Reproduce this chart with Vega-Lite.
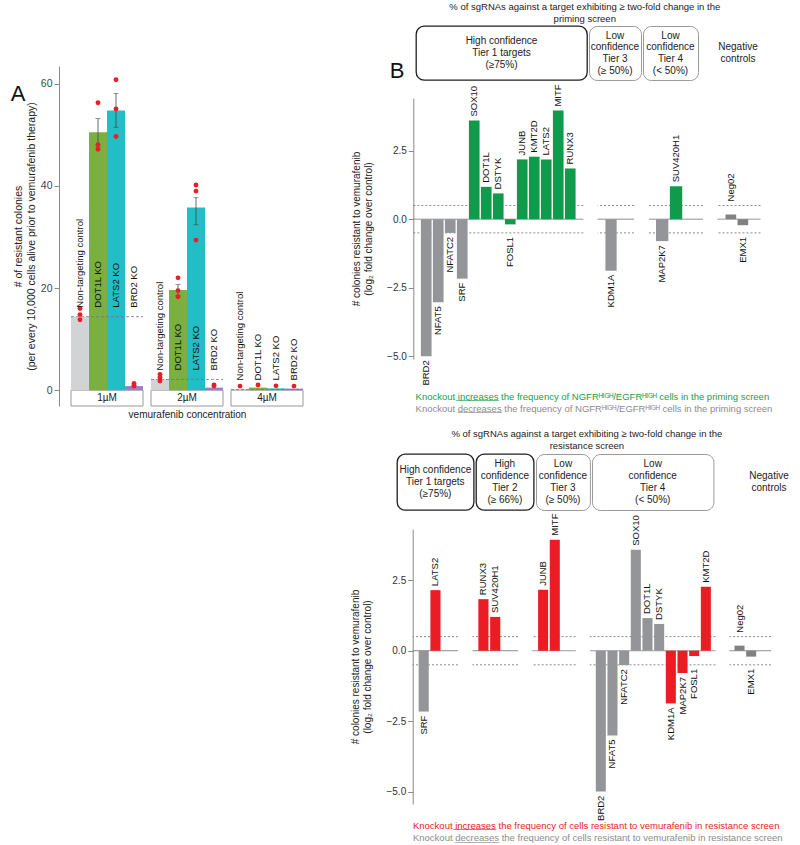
{
"$schema": "https://vega.github.io/schema/vega-lite/v6.json",
"padding": {"left": 10, "top": 2, "right": 0, "bottom": 0},
"config": {"font": "Liberation Sans", "view": {"stroke": null}, "axis": {"grid": false}, "title": {"fontWeight": "normal"}},
"resolve": {"scale": {"color": "independent", "strokeDash": "independent"}},
"datasets": {
 "aBars": [
  {"conc": "1µM", "sample": "Non-targeting control", "mean": 14.4},
  {"conc": "1µM", "sample": "DOT1L KO", "mean": 50.5, "lo": 47.8, "hi": 53.2},
  {"conc": "1µM", "sample": "LATS2 KO", "mean": 54.8, "lo": 51.5, "hi": 58.1},
  {"conc": "1µM", "sample": "BRD2 KO", "mean": 0.8},
  {"conc": "2µM", "sample": "Non-targeting control", "mean": 2.1},
  {"conc": "2µM", "sample": "DOT1L KO", "mean": 19.6, "lo": 18.5, "hi": 20.7},
  {"conc": "2µM", "sample": "LATS2 KO", "mean": 35.8, "lo": 32.4, "hi": 37.7},
  {"conc": "2µM", "sample": "BRD2 KO", "mean": 0.5},
  {"conc": "4µM", "sample": "Non-targeting control", "mean": 0.15},
  {"conc": "4µM", "sample": "DOT1L KO", "mean": 0.5},
  {"conc": "4µM", "sample": "LATS2 KO", "mean": 0.35},
  {"conc": "4µM", "sample": "BRD2 KO", "mean": 0.3}
 ],
 "aPts": [
  {"conc": "1µM", "sample": "Non-targeting control", "v": 16.0},
  {"conc": "1µM", "sample": "Non-targeting control", "v": 14.8},
  {"conc": "1µM", "sample": "Non-targeting control", "v": 13.8},
  {"conc": "1µM", "sample": "DOT1L KO", "v": 56.3},
  {"conc": "1µM", "sample": "DOT1L KO", "v": 48.1},
  {"conc": "1µM", "sample": "DOT1L KO", "v": 47.2},
  {"conc": "1µM", "sample": "LATS2 KO", "v": 60.8},
  {"conc": "1µM", "sample": "LATS2 KO", "v": 55.1},
  {"conc": "1µM", "sample": "LATS2 KO", "v": 49.7},
  {"conc": "1µM", "sample": "BRD2 KO", "v": 1.3},
  {"conc": "1µM", "sample": "BRD2 KO", "v": 0.9},
  {"conc": "1µM", "sample": "BRD2 KO", "v": 0.8},
  {"conc": "2µM", "sample": "Non-targeting control", "v": 3.1},
  {"conc": "2µM", "sample": "Non-targeting control", "v": 2.5},
  {"conc": "2µM", "sample": "Non-targeting control", "v": 1.8},
  {"conc": "2µM", "sample": "DOT1L KO", "v": 22.0},
  {"conc": "2µM", "sample": "DOT1L KO", "v": 19.5},
  {"conc": "2µM", "sample": "DOT1L KO", "v": 18.3},
  {"conc": "2µM", "sample": "LATS2 KO", "v": 40.2},
  {"conc": "2µM", "sample": "LATS2 KO", "v": 39.0},
  {"conc": "2µM", "sample": "LATS2 KO", "v": 29.4},
  {"conc": "2µM", "sample": "BRD2 KO", "v": 1.0},
  {"conc": "2µM", "sample": "BRD2 KO", "v": 0.8},
  {"conc": "4µM", "sample": "Non-targeting control", "v": 0.8},
  {"conc": "4µM", "sample": "DOT1L KO", "v": 1.0},
  {"conc": "4µM", "sample": "LATS2 KO", "v": 0.85},
  {"conc": "4µM", "sample": "BRD2 KO", "v": 0.8}
 ],
 "aConc": [{"conc": "1µM"}, {"conc": "2µM"}, {"conc": "4µM"}],
 "refs": [{"value": 0, "kind": "zero"}, {"value": 0.5, "kind": "thr"}, {"value": -0.5, "kind": "thr"}],
 "bTop": [
  {"group": "T1", "gene": "BRD2", "value": -5.0, "call": "non"},
  {"group": "T1", "gene": "NFAT5", "value": -3.03, "call": "non"},
  {"group": "T1", "gene": "NFATC2", "value": -0.5, "call": "non"},
  {"group": "T1", "gene": "SRF", "value": -2.17, "call": "non"},
  {"group": "T1", "gene": "SOX10", "value": 3.6, "call": "hit"},
  {"group": "T1", "gene": "DOT1L", "value": 1.18, "call": "hit"},
  {"group": "T1", "gene": "DSTYK", "value": 0.94, "call": "hit"},
  {"group": "T1", "gene": "FOSL1", "value": -0.19, "call": "hit"},
  {"group": "T1", "gene": "JUNB", "value": 2.18, "call": "hit"},
  {"group": "T1", "gene": "KMT2D", "value": 2.28, "call": "hit"},
  {"group": "T1", "gene": "LATS2", "value": 2.18, "call": "hit"},
  {"group": "T1", "gene": "MITF", "value": 3.96, "call": "hit"},
  {"group": "T1", "gene": "RUNX3", "value": 1.85, "call": "hit"},
  {"group": "T3", "gene": "KDM1A", "value": -1.88, "call": "non"},
  {"group": "T4", "gene": "MAP2K7", "value": -0.8, "call": "non"},
  {"group": "T4", "gene": "SUV420H1", "value": 1.2, "call": "hit"},
  {"group": "NC", "gene": "Neg02", "value": 0.17, "call": "ctrl"},
  {"group": "NC", "gene": "EMX1", "value": -0.22, "call": "ctrl"}
 ],
 "bBot": [
  {"group": "T1", "gene": "SRF", "value": -2.16, "call": "non"},
  {"group": "T1", "gene": "LATS2", "value": 2.15, "call": "hit"},
  {"group": "T2", "gene": "RUNX3", "value": 1.83, "call": "hit"},
  {"group": "T2", "gene": "SUV420H1", "value": 1.2, "call": "hit"},
  {"group": "T3", "gene": "JUNB", "value": 2.16, "call": "hit"},
  {"group": "T3", "gene": "MITF", "value": 3.94, "call": "hit"},
  {"group": "T4", "gene": "BRD2", "value": -5.0, "call": "non"},
  {"group": "T4", "gene": "NFAT5", "value": -3.01, "call": "non"},
  {"group": "T4", "gene": "NFATC2", "value": -0.51, "call": "non"},
  {"group": "T4", "gene": "SOX10", "value": 3.58, "call": "non"},
  {"group": "T4", "gene": "DOT1L", "value": 1.16, "call": "non"},
  {"group": "T4", "gene": "DSTYK", "value": 0.95, "call": "non"},
  {"group": "T4", "gene": "KDM1A", "value": -1.87, "call": "hit"},
  {"group": "T4", "gene": "MAP2K7", "value": -0.79, "call": "hit"},
  {"group": "T4", "gene": "FOSL1", "value": -0.19, "call": "hit"},
  {"group": "T4", "gene": "KMT2D", "value": 2.27, "call": "hit"},
  {"group": "NC", "gene": "Neg02", "value": 0.18, "call": "ctrl"},
  {"group": "NC", "gene": "EMX1", "value": -0.21, "call": "ctrl"}
 ]
},
"spacing": 46,
"hconcat": [
 {"spacing": 8, "bounds": "flush", "vconcat": [
  {"width": 10, "height": 32, "data": {"values": [{"t": "A"}]}, "mark": {"type": "text", "fontSize": 22, "dx": -58, "dy": 52, "color": "#111"}, "encoding": {"text": {"field": "t"}}},
  {"width": 232, "height": 340,
   "layer": [
    {"data": {"name": "aConc"}, "mark": {"type": "rect", "fill": "white", "stroke": "#9a9a9a", "strokeWidth": 1},
     "encoding": {"x": {"field": "conc", "type": "nominal"}, "y": {"datum": 0, "type": "quantitative"}, "y2": {"datum": -3.1}}},
    {"data": {"name": "aConc"}, "mark": {"type": "text", "fontSize": 10, "color": "#222"},
     "encoding": {"x": {"field": "conc", "type": "nominal"}, "y": {"datum": -1.55, "type": "quantitative"}, "text": {"field": "conc"}}},
    {"data": {"name": "aBars"}, "mark": {"type": "bar"},
     "encoding": {
      "x": {"field": "conc", "type": "nominal", "scale": {"paddingInner": 0.1, "paddingOuter": 0}, "axis": {"title": "vemurafenib concentration", "labels": false, "ticks": false, "domain": false, "titleFontSize": 10, "titleFontWeight": "normal", "titlePadding": 3, "titleColor": "#222"}},
      "xOffset": {"field": "sample", "type": "nominal", "sort": ["Non-targeting control", "DOT1L KO", "LATS2 KO", "BRD2 KO"], "scale": {"paddingInner": 0, "paddingOuter": 0}},
      "y": {"field": "mean", "type": "quantitative", "scale": {"domain": [-3.1, 63.5], "nice": false}, "axis": {"values": [0, 20, 40, 60], "offset": 12, "title": ["# of resistant colonies", "(per every 10,000 cells alive prior to vemurafenib therapy)"], "titleFontSize": 10.5, "titleFontWeight": "normal", "titleLineHeight": 12.5, "titlePadding": 4, "titleColor": "#222", "labelFontSize": 10.5, "labelColor": "#444", "domainColor": "#8a8a8a", "tickColor": "#8a8a8a", "tickSize": 5, "labelPadding": 2}},
      "color": {"field": "sample", "type": "nominal", "scale": {"domain": ["Non-targeting control", "DOT1L KO", "LATS2 KO", "BRD2 KO"], "range": ["#d2d3d5", "#7aaf41", "#21bec5", "#9c7fc6"]}, "legend": null}}},
    {"data": {"name": "aBars"}, "transform": [{"filter": "datum.sample == 'Non-targeting control'"}], "mark": {"type": "rule", "strokeDash": [3, 2], "color": "#777", "strokeWidth": 0.8},
     "encoding": {"x": {"field": "conc", "type": "nominal", "bandPosition": 0}, "x2": {"field": "conc", "bandPosition": 1}, "y": {"field": "mean", "type": "quantitative"}}},
    {"data": {"name": "aBars"}, "transform": [{"filter": "isValid(datum.lo)"}], "mark": {"type": "rule", "color": "#444", "strokeWidth": 0.8},
     "encoding": {"x": {"field": "conc", "type": "nominal"}, "xOffset": {"field": "sample", "type": "nominal", "sort": ["Non-targeting control", "DOT1L KO", "LATS2 KO", "BRD2 KO"]}, "y": {"field": "lo", "type": "quantitative"}, "y2": {"field": "hi"}}},
    {"data": {"name": "aBars"}, "transform": [{"filter": "isValid(datum.lo)"}], "mark": {"type": "tick", "color": "#444", "size": 5, "thickness": 0.8},
     "encoding": {"x": {"field": "conc", "type": "nominal"}, "xOffset": {"field": "sample", "type": "nominal", "sort": ["Non-targeting control", "DOT1L KO", "LATS2 KO", "BRD2 KO"]}, "y": {"field": "lo", "type": "quantitative"}}},
    {"data": {"name": "aBars"}, "transform": [{"filter": "isValid(datum.hi)"}], "mark": {"type": "tick", "color": "#444", "size": 5, "thickness": 0.8},
     "encoding": {"x": {"field": "conc", "type": "nominal"}, "xOffset": {"field": "sample", "type": "nominal", "sort": ["Non-targeting control", "DOT1L KO", "LATS2 KO", "BRD2 KO"]}, "y": {"field": "hi", "type": "quantitative"}}},
    {"data": {"name": "aPts"}, "mark": {"type": "circle", "size": 24, "color": "#ee1c25", "opacity": 1},
     "encoding": {"x": {"field": "conc", "type": "nominal"}, "xOffset": {"field": "sample", "type": "nominal", "sort": ["Non-targeting control", "DOT1L KO", "LATS2 KO", "BRD2 KO"]}, "y": {"field": "v", "type": "quantitative"}}},
    {"data": {"name": "aBars"}, "transform": [{"calculate": "datum.sample == 'Non-targeting control' ? datum.mean : 0", "as": "ntv"}, {"joinaggregate": [{"op": "max", "field": "ntv", "as": "ntbase"}], "groupby": ["conc"]}],
     "mark": {"type": "text", "angle": 270, "align": "left", "baseline": "middle", "dx": 9, "fontSize": 9.5, "color": "#111"},
     "encoding": {"x": {"field": "conc", "type": "nominal"}, "xOffset": {"field": "sample", "type": "nominal", "sort": ["Non-targeting control", "DOT1L KO", "LATS2 KO", "BRD2 KO"]}, "y": {"field": "ntbase", "type": "quantitative"}, "text": {"field": "sample"}}}
   ]}
 ]},
 {"spacing": 15, "resolve": {"scale": {"color": "independent", "strokeDash": "independent"}}, "vconcat": [
  {"title": {"text": ["% of sgRNAs against a target exhibiting ≥ two-fold change in the", "priming screen"], "fontSize": 9.5, "lineHeight": 11.5, "anchor": "middle", "frame": "bounds", "dx": 21, "offset": 2, "color": "#222"},
   "spacing": 2,
   "vconcat": [
    {"spacing": 2, "bounds": "flush", "hconcat": [
     {"width": 21, "height": 54, "data": {"values": [{"t": "B"}]}, "mark": {"type": "text", "fontSize": 22, "dx": -6.5, "dy": 18, "color": "#111"}, "encoding": {"text": {"field": "t"}}},
     {"width": 171, "height": 54, "view": {"stroke": "#1e1e1e", "strokeWidth": 1.3, "cornerRadius": 8}, "data": {"values": [{"t": "High confidence\nTier 1 targets\n(≥75%)"}]}, "mark": {"type": "text", "lineBreak": "\n", "fontSize": 10, "lineHeight": 12, "baseline": "middle", "dy": -12, "color": "#222"}, "encoding": {"text": {"field": "t"}}},
     {"width": 52, "height": 54, "view": {"stroke": "#9a9a9a", "strokeWidth": 1, "cornerRadius": 8}, "data": {"values": [{"t": "Low\nconfidence\nTier 3\n(≥ 50%)"}]}, "mark": {"type": "text", "lineBreak": "\n", "fontSize": 10, "lineHeight": 11.7, "baseline": "middle", "dy": -17.5, "color": "#222"}, "encoding": {"text": {"field": "t"}}},
     {"width": 55, "height": 54, "view": {"stroke": "#9a9a9a", "strokeWidth": 1, "cornerRadius": 8}, "data": {"values": [{"t": "Low\nconfidence\nTier 4\n(< 50%)"}]}, "mark": {"type": "text", "lineBreak": "\n", "fontSize": 10, "lineHeight": 11.7, "baseline": "middle", "dy": -17.5, "color": "#222"}, "encoding": {"text": {"field": "t"}}},
     {"width": 76, "height": 54, "data": {"values": [{"t": "Negative\ncontrols"}]}, "mark": {"type": "text", "lineBreak": "\n", "fontSize": 10, "lineHeight": 11.7, "baseline": "middle", "dy": -6, "color": "#222"}, "encoding": {"text": {"field": "t"}}}
    ]},
    {"spacing": 14.3, "bounds": "flush",
     "title": {"text": "Knockout i̲n̲c̲r̲e̲a̲s̲e̲s̲ the frequency of NGFRᴴᴵᴳᴴ/EGFRᴴᴵᴳᴴ cells in the priming screen", "subtitle": "Knockout d̲e̲c̲r̲e̲a̲s̲e̲s̲ the frequency of NGFRᴴᴵᴳᴴ/EGFRᴴᴵᴳᴴ cells in the priming screen", "orient": "bottom", "anchor": "start", "frame": "bounds", "dx": 64, "offset": 6, "fontSize": 9.5, "color": "#17a04c", "subtitleColor": "#8c8c8c", "subtitleFontSize": 9.5, "subtitlePadding": 3},
     "hconcat": [
      {"width": 5.4, "height": 261, "data": {"values": [{}]}, "mark": "text", "encoding": {"text": {"value": ""}}},
      {"width": 170, "height": 261, "layer": [
       {"data": {"name": "refs"}, "mark": {"type": "rule", "color": "#6e6e6e", "strokeWidth": 0.8}, "encoding": {"y": {"field": "value", "type": "quantitative", "scale": {"domain": [-5.1, 4.42], "nice": false}, "axis": {"values": [-5, -2.5, 0, 2.5], "format": ".1f", "title": ["# colonies resistant to vemurafenib", "(log₂ fold change over control)"], "titleFontSize": 10, "titleFontWeight": "normal", "titlePadding": 13, "titleLineHeight": 12, "titleColor": "#222", "labelFontSize": 10, "labelColor": "#333", "domainColor": "#8a8a8a", "tickColor": "#8a8a8a", "tickSize": 5, "labelPadding": 2}}, "strokeDash": {"field": "kind", "type": "nominal", "scale": {"domain": ["zero", "thr"], "range": [[1, 0], [2, 2]]}, "legend": null}}},
       {"data": {"name": "bTop"}, "transform": [{"filter": "datum.group == 'T1'"}], "mark": "bar", "encoding": {"x": {"field": "gene", "type": "nominal", "axis": null, "scale": {"domain": ["BRD2", "NFAT5", "NFATC2", "SRF", "SOX10", "DOT1L", "DSTYK", "FOSL1", "JUNB", "KMT2D", "LATS2", "MITF", "RUNX3"], "paddingInner": 0.11, "paddingOuter": 0.638, "align": 0.496}}, "y": {"field": "value", "type": "quantitative"}, "color": {"field": "call", "type": "nominal", "scale": {"domain": ["hit", "non", "ctrl"], "range": ["#0f9b4b", "#939598", "#818181"]}, "legend": null}}},
       {"data": {"name": "bTop"}, "transform": [{"filter": "datum.group == 'T1' && datum.value >= 0"}, {"calculate": "max(datum.value, 0.5)", "as": "ly"}], "mark": {"type": "text", "angle": 270, "align": "left", "baseline": "middle", "dx": 4, "fontSize": 9.5, "color": "#111"}, "encoding": {"x": {"field": "gene", "type": "nominal", "axis": null}, "y": {"field": "ly", "type": "quantitative"}, "text": {"field": "gene"}}},
       {"data": {"name": "bTop"}, "transform": [{"filter": "datum.group == 'T1' && datum.value < 0"}, {"calculate": "min(datum.value, -0.5)", "as": "ly"}], "mark": {"type": "text", "angle": 270, "align": "right", "baseline": "middle", "dx": -4, "fontSize": 9.5, "color": "#111"}, "encoding": {"x": {"field": "gene", "type": "nominal", "axis": null}, "y": {"field": "ly", "type": "quantitative"}, "text": {"field": "gene"}}}
      ]},
      {"width": 36.4, "height": 261, "layer": [
       {"data": {"name": "refs"}, "mark": {"type": "rule", "color": "#6e6e6e", "strokeWidth": 0.8}, "encoding": {"y": {"field": "value", "type": "quantitative", "scale": {"domain": [-5.1, 4.42], "nice": false}, "axis": null}, "strokeDash": {"field": "kind", "type": "nominal", "scale": {"domain": ["zero", "thr"], "range": [[1, 0], [2, 2]]}, "legend": null}}},
       {"data": {"name": "bTop"}, "transform": [{"filter": "datum.group == 'T3'"}], "mark": "bar", "encoding": {"x": {"field": "gene", "type": "nominal", "axis": null, "scale": {"domain": ["KDM1A"], "paddingInner": 0.11, "paddingOuter": 1.072, "align": 0.311}}, "y": {"field": "value", "type": "quantitative", "axis": null}, "color": {"field": "call", "type": "nominal", "scale": {"domain": ["hit", "non", "ctrl"], "range": ["#0f9b4b", "#939598", "#818181"]}, "legend": null}}},
       {"data": {"name": "bTop"}, "transform": [{"filter": "datum.group == 'T3' && datum.value < 0"}, {"calculate": "min(datum.value, -0.5)", "as": "ly"}], "mark": {"type": "text", "angle": 270, "align": "right", "baseline": "middle", "dx": -4, "fontSize": 9.5, "color": "#111"}, "encoding": {"x": {"field": "gene", "type": "nominal", "axis": null}, "y": {"field": "ly", "type": "quantitative", "axis": null}, "text": {"field": "gene"}}}
      ]},
      {"width": 54, "height": 261, "layer": [
       {"data": {"name": "refs"}, "mark": {"type": "rule", "color": "#6e6e6e", "strokeWidth": 0.8}, "encoding": {"y": {"field": "value", "type": "quantitative", "scale": {"domain": [-5.1, 4.42], "nice": false}, "axis": null}, "strokeDash": {"field": "kind", "type": "nominal", "scale": {"domain": ["zero", "thr"], "range": [[1, 0], [2, 2]]}, "legend": null}}},
       {"data": {"name": "bTop"}, "transform": [{"filter": "datum.group == 'T4'"}], "mark": "bar", "encoding": {"x": {"field": "gene", "type": "nominal", "axis": null, "scale": {"domain": ["MAP2K7", "SUV420H1"], "paddingInner": 0.11, "paddingOuter": 1.305, "align": 0.255}}, "y": {"field": "value", "type": "quantitative", "axis": null}, "color": {"field": "call", "type": "nominal", "scale": {"domain": ["hit", "non", "ctrl"], "range": ["#0f9b4b", "#939598", "#818181"]}, "legend": null}}},
       {"data": {"name": "bTop"}, "transform": [{"filter": "datum.group == 'T4' && datum.value >= 0"}, {"calculate": "max(datum.value, 0.5)", "as": "ly"}], "mark": {"type": "text", "angle": 270, "align": "left", "baseline": "middle", "dx": 4, "fontSize": 9.5, "color": "#111"}, "encoding": {"x": {"field": "gene", "type": "nominal", "axis": null}, "y": {"field": "ly", "type": "quantitative", "axis": null}, "text": {"field": "gene"}}},
       {"data": {"name": "bTop"}, "transform": [{"filter": "datum.group == 'T4' && datum.value < 0"}, {"calculate": "min(datum.value, -0.5)", "as": "ly"}], "mark": {"type": "text", "angle": 270, "align": "right", "baseline": "middle", "dx": -4, "fontSize": 9.5, "color": "#111"}, "encoding": {"x": {"field": "gene", "type": "nominal", "axis": null}, "y": {"field": "ly", "type": "quantitative", "axis": null}, "text": {"field": "gene"}}}
      ]},
      {"width": 43.3, "height": 261, "layer": [
       {"data": {"name": "refs"}, "mark": {"type": "rule", "color": "#6e6e6e", "strokeWidth": 0.8}, "encoding": {"y": {"field": "value", "type": "quantitative", "scale": {"domain": [-5.1, 4.42], "nice": false}, "axis": null}, "strokeDash": {"field": "kind", "type": "nominal", "scale": {"domain": ["zero", "thr"], "range": [[1, 0], [2, 2]]}, "legend": null}}},
       {"data": {"name": "bTop"}, "transform": [{"filter": "datum.group == 'NC'"}], "mark": "bar", "encoding": {"x": {"field": "gene", "type": "nominal", "axis": null, "scale": {"domain": ["Neg02", "EMX1"], "paddingInner": 0.11, "paddingOuter": 0.859, "align": 0.403}}, "y": {"field": "value", "type": "quantitative", "axis": null}, "color": {"field": "call", "type": "nominal", "scale": {"domain": ["hit", "non", "ctrl"], "range": ["#0f9b4b", "#939598", "#818181"]}, "legend": null}}},
       {"data": {"name": "bTop"}, "transform": [{"filter": "datum.group == 'NC' && datum.value >= 0"}, {"calculate": "max(datum.value, 0.5)", "as": "ly"}], "mark": {"type": "text", "angle": 270, "align": "left", "baseline": "middle", "dx": 4, "fontSize": 9.5, "color": "#111"}, "encoding": {"x": {"field": "gene", "type": "nominal", "axis": null}, "y": {"field": "ly", "type": "quantitative", "axis": null}, "text": {"field": "gene"}}},
       {"data": {"name": "bTop"}, "transform": [{"filter": "datum.group == 'NC' && datum.value < 0"}, {"calculate": "min(datum.value, -0.5)", "as": "ly"}], "mark": {"type": "text", "angle": 270, "align": "right", "baseline": "middle", "dx": -4, "fontSize": 9.5, "color": "#111"}, "encoding": {"x": {"field": "gene", "type": "nominal", "axis": null}, "y": {"field": "ly", "type": "quantitative", "axis": null}, "text": {"field": "gene"}}}
      ]}
     ]}
   ]},
  {"title": {"text": ["% of sgRNAs against a target exhibiting ≥ two-fold change in the", "resistance screen"], "fontSize": 9.5, "lineHeight": 11.5, "anchor": "middle", "frame": "bounds", "dx": 17, "offset": 3, "color": "#222"},
   "spacing": 2,
   "vconcat": [
    {"spacing": 2, "bounds": "flush", "hconcat": [
     {"width": 2, "height": 56, "data": {"values": [{}]}, "mark": "text", "encoding": {"text": {"value": ""}}},
     {"width": 76.7, "height": 56, "view": {"stroke": "#1e1e1e", "strokeWidth": 1.3, "cornerRadius": 8}, "data": {"values": [{"t": "High confidence\nTier 1 targets\n(≥75%)"}]}, "mark": {"type": "text", "lineBreak": "\n", "fontSize": 10, "lineHeight": 12, "baseline": "middle", "dy": -12, "color": "#222"}, "encoding": {"text": {"field": "t"}}},
     {"width": 57.7, "height": 56, "view": {"stroke": "#1e1e1e", "strokeWidth": 1.3, "cornerRadius": 8}, "data": {"values": [{"t": "High\nconfidence\nTier 2\n(≥ 66%)"}]}, "mark": {"type": "text", "lineBreak": "\n", "fontSize": 10, "lineHeight": 12.3, "baseline": "middle", "dy": -18.5, "color": "#222"}, "encoding": {"text": {"field": "t"}}},
     {"width": 53.9, "height": 56, "view": {"stroke": "#9a9a9a", "strokeWidth": 1, "cornerRadius": 8}, "data": {"values": [{"t": "Low\nconfidence\nTier 3\n(≥ 50%)"}]}, "mark": {"type": "text", "lineBreak": "\n", "fontSize": 10, "lineHeight": 12.3, "baseline": "middle", "dy": -18.5, "color": "#222"}, "encoding": {"text": {"field": "t"}}},
     {"width": 121.4, "height": 56, "view": {"stroke": "#9a9a9a", "strokeWidth": 1, "cornerRadius": 8}, "data": {"values": [{"t": "Low\nconfidence\nTier 4\n(< 50%)"}]}, "mark": {"type": "text", "lineBreak": "\n", "fontSize": 10, "lineHeight": 12.3, "baseline": "middle", "dy": -18.5, "color": "#222"}, "encoding": {"text": {"field": "t"}}},
     {"width": 50, "height": 56, "data": {"values": [{"t": "Negative\ncontrols"}]}, "mark": {"type": "text", "lineBreak": "\n", "fontSize": 10, "lineHeight": 12.3, "baseline": "middle", "dx": 28, "dy": -6, "color": "#222"}, "encoding": {"text": {"field": "t"}}}
    ]},
    {"spacing": 13.7, "bounds": "flush",
     "title": {"text": "Knockout  i̲n̲c̲r̲e̲a̲s̲e̲s̲ the frequency of cells resistant to vemurafenib in resistance screen", "subtitle": "Knockout d̲e̲c̲r̲e̲a̲s̲e̲s̲ the frequency of cells resistant to vemurafenib in resistance screen", "orient": "bottom", "anchor": "start", "frame": "bounds", "dx": 62, "offset": 0, "fontSize": 9.5, "color": "#ec1c24", "subtitleColor": "#8c8c8c", "subtitleFontSize": 9.5, "subtitlePadding": 3},
     "hconcat": [
      {"width": 6, "height": 275, "data": {"values": [{}]}, "mark": "text", "encoding": {"text": {"value": ""}}},
      {"width": 45.3, "height": 275, "layer": [
       {"data": {"name": "refs"}, "mark": {"type": "rule", "color": "#6e6e6e", "strokeWidth": 0.8}, "encoding": {"y": {"field": "value", "type": "quantitative", "scale": {"domain": [-5.44, 4.32], "nice": false}, "axis": {"values": [-5, -2.5, 0, 2.5], "format": ".1f", "title": ["# colonies resistant to vemurafenib", "(log₂ fold change over control)"], "titleFontSize": 10, "titleFontWeight": "normal", "titlePadding": 13, "titleLineHeight": 12, "titleColor": "#222", "labelFontSize": 10, "labelColor": "#333", "domainColor": "#8a8a8a", "tickColor": "#8a8a8a", "tickSize": 5, "labelPadding": 2}}, "strokeDash": {"field": "kind", "type": "nominal", "scale": {"domain": ["zero", "thr"], "range": [[1, 0], [2, 2]]}, "legend": null}}},
       {"data": {"name": "bBot"}, "transform": [{"filter": "datum.group == 'T1'"}], "mark": "bar", "encoding": {"x": {"field": "gene", "type": "nominal", "axis": null, "scale": {"domain": ["SRF", "LATS2"], "paddingInner": 0.14, "paddingOuter": 1.011, "align": 0.254}}, "y": {"field": "value", "type": "quantitative"}, "color": {"field": "call", "type": "nominal", "scale": {"domain": ["hit", "non", "ctrl"], "range": ["#ec1c24", "#939598", "#818181"]}, "legend": null}}},
       {"data": {"name": "bBot"}, "transform": [{"filter": "datum.group == 'T1' && datum.value >= 0"}, {"calculate": "max(datum.value, 0.5)", "as": "ly"}], "mark": {"type": "text", "angle": 270, "align": "left", "baseline": "middle", "dx": 4, "fontSize": 9.5, "color": "#111"}, "encoding": {"x": {"field": "gene", "type": "nominal", "axis": null}, "y": {"field": "ly", "type": "quantitative"}, "text": {"field": "gene"}}},
       {"data": {"name": "bBot"}, "transform": [{"filter": "datum.group == 'T1' && datum.value < 0"}, {"calculate": "min(datum.value, -0.5)", "as": "ly"}], "mark": {"type": "text", "angle": 270, "align": "right", "baseline": "middle", "dx": -4, "fontSize": 9.5, "color": "#111"}, "encoding": {"x": {"field": "gene", "type": "nominal", "axis": null}, "y": {"field": "ly", "type": "quantitative"}, "text": {"field": "gene"}}}
      ]},
      {"width": 45.6, "height": 275, "layer": [
       {"data": {"name": "refs"}, "mark": {"type": "rule", "color": "#6e6e6e", "strokeWidth": 0.8}, "encoding": {"y": {"field": "value", "type": "quantitative", "scale": {"domain": [-5.44, 4.32], "nice": false}, "axis": null}, "strokeDash": {"field": "kind", "type": "nominal", "scale": {"domain": ["zero", "thr"], "range": [[1, 0], [2, 2]]}, "legend": null}}},
       {"data": {"name": "bBot"}, "transform": [{"filter": "datum.group == 'T2'"}], "mark": "bar", "encoding": {"x": {"field": "gene", "type": "nominal", "axis": null, "scale": {"domain": ["RUNX3", "SUV420H1"], "paddingInner": 0.14, "paddingOuter": 1.024, "align": 0.251}}, "y": {"field": "value", "type": "quantitative", "axis": null}, "color": {"field": "call", "type": "nominal", "scale": {"domain": ["hit", "non", "ctrl"], "range": ["#ec1c24", "#939598", "#818181"]}, "legend": null}}},
       {"data": {"name": "bBot"}, "transform": [{"filter": "datum.group == 'T2' && datum.value >= 0"}, {"calculate": "max(datum.value, 0.5)", "as": "ly"}], "mark": {"type": "text", "angle": 270, "align": "left", "baseline": "middle", "dx": 4, "fontSize": 9.5, "color": "#111"}, "encoding": {"x": {"field": "gene", "type": "nominal", "axis": null}, "y": {"field": "ly", "type": "quantitative", "axis": null}, "text": {"field": "gene"}}}
      ]},
      {"width": 43.6, "height": 275, "layer": [
       {"data": {"name": "refs"}, "mark": {"type": "rule", "color": "#6e6e6e", "strokeWidth": 0.8}, "encoding": {"y": {"field": "value", "type": "quantitative", "scale": {"domain": [-5.44, 4.32], "nice": false}, "axis": null}, "strokeDash": {"field": "kind", "type": "nominal", "scale": {"domain": ["zero", "thr"], "range": [[1, 0], [2, 2]]}, "legend": null}}},
       {"data": {"name": "bBot"}, "transform": [{"filter": "datum.group == 'T3'"}], "mark": "bar", "encoding": {"x": {"field": "gene", "type": "nominal", "axis": null, "scale": {"domain": ["JUNB", "MITF"], "paddingInner": 0.14, "paddingOuter": 0.938, "align": 0.274}}, "y": {"field": "value", "type": "quantitative", "axis": null}, "color": {"field": "call", "type": "nominal", "scale": {"domain": ["hit", "non", "ctrl"], "range": ["#ec1c24", "#939598", "#818181"]}, "legend": null}}},
       {"data": {"name": "bBot"}, "transform": [{"filter": "datum.group == 'T3' && datum.value >= 0"}, {"calculate": "max(datum.value, 0.5)", "as": "ly"}], "mark": {"type": "text", "angle": 270, "align": "left", "baseline": "middle", "dx": 4, "fontSize": 9.5, "color": "#111"}, "encoding": {"x": {"field": "gene", "type": "nominal", "axis": null}, "y": {"field": "ly", "type": "quantitative", "axis": null}, "text": {"field": "gene"}}}
      ]},
      {"width": 125.7, "height": 275, "layer": [
       {"data": {"name": "refs"}, "mark": {"type": "rule", "color": "#6e6e6e", "strokeWidth": 0.8}, "encoding": {"y": {"field": "value", "type": "quantitative", "scale": {"domain": [-5.44, 4.32], "nice": false}, "axis": null}, "strokeDash": {"field": "kind", "type": "nominal", "scale": {"domain": ["zero", "thr"], "range": [[1, 0], [2, 2]]}, "legend": null}}},
       {"data": {"name": "bBot"}, "transform": [{"filter": "datum.group == 'T4'"}], "mark": "bar", "encoding": {"x": {"field": "gene", "type": "nominal", "axis": null, "scale": {"domain": ["BRD2", "NFAT5", "NFATC2", "SOX10", "DOT1L", "DSTYK", "KDM1A", "MAP2K7", "FOSL1", "KMT2D"], "paddingInner": 0.14, "paddingOuter": 0.455, "align": 0.564}}, "y": {"field": "value", "type": "quantitative", "axis": null}, "color": {"field": "call", "type": "nominal", "scale": {"domain": ["hit", "non", "ctrl"], "range": ["#ec1c24", "#939598", "#818181"]}, "legend": null}}},
       {"data": {"name": "bBot"}, "transform": [{"filter": "datum.group == 'T4' && datum.value >= 0"}, {"calculate": "max(datum.value, 0.5)", "as": "ly"}], "mark": {"type": "text", "angle": 270, "align": "left", "baseline": "middle", "dx": 4, "fontSize": 9.5, "color": "#111"}, "encoding": {"x": {"field": "gene", "type": "nominal", "axis": null}, "y": {"field": "ly", "type": "quantitative", "axis": null}, "text": {"field": "gene"}}},
       {"data": {"name": "bBot"}, "transform": [{"filter": "datum.group == 'T4' && datum.value < 0"}, {"calculate": "min(datum.value, -0.5)", "as": "ly"}], "mark": {"type": "text", "angle": 270, "align": "right", "baseline": "middle", "dx": -4, "fontSize": 9.5, "color": "#111"}, "encoding": {"x": {"field": "gene", "type": "nominal", "axis": null}, "y": {"field": "ly", "type": "quantitative", "axis": null}, "text": {"field": "gene"}}}
      ]},
      {"width": 41.6, "height": 275, "layer": [
       {"data": {"name": "refs"}, "mark": {"type": "rule", "color": "#6e6e6e", "strokeWidth": 0.8}, "encoding": {"y": {"field": "value", "type": "quantitative", "scale": {"domain": [-5.44, 4.32], "nice": false}, "axis": null}, "strokeDash": {"field": "kind", "type": "nominal", "scale": {"domain": ["zero", "thr"], "range": [[1, 0], [2, 2]]}, "legend": null}}},
       {"data": {"name": "bBot"}, "transform": [{"filter": "datum.group == 'NC'"}], "mark": "bar", "encoding": {"x": {"field": "gene", "type": "nominal", "axis": null, "scale": {"domain": ["Neg02", "EMX1"], "paddingInner": 0.14, "paddingOuter": 0.852, "align": 0.251}}, "y": {"field": "value", "type": "quantitative", "axis": null}, "color": {"field": "call", "type": "nominal", "scale": {"domain": ["hit", "non", "ctrl"], "range": ["#ec1c24", "#939598", "#818181"]}, "legend": null}}},
       {"data": {"name": "bBot"}, "transform": [{"filter": "datum.group == 'NC' && datum.value >= 0"}, {"calculate": "max(datum.value, 0.5)", "as": "ly"}], "mark": {"type": "text", "angle": 270, "align": "left", "baseline": "middle", "dx": 4, "fontSize": 9.5, "color": "#111"}, "encoding": {"x": {"field": "gene", "type": "nominal", "axis": null}, "y": {"field": "ly", "type": "quantitative", "axis": null}, "text": {"field": "gene"}}},
       {"data": {"name": "bBot"}, "transform": [{"filter": "datum.group == 'NC' && datum.value < 0"}, {"calculate": "min(datum.value, -0.5)", "as": "ly"}], "mark": {"type": "text", "angle": 270, "align": "right", "baseline": "middle", "dx": -4, "fontSize": 9.5, "color": "#111"}, "encoding": {"x": {"field": "gene", "type": "nominal", "axis": null}, "y": {"field": "ly", "type": "quantitative", "axis": null}, "text": {"field": "gene"}}}
      ]}
     ]}
   ]}
 ]}
]
}
